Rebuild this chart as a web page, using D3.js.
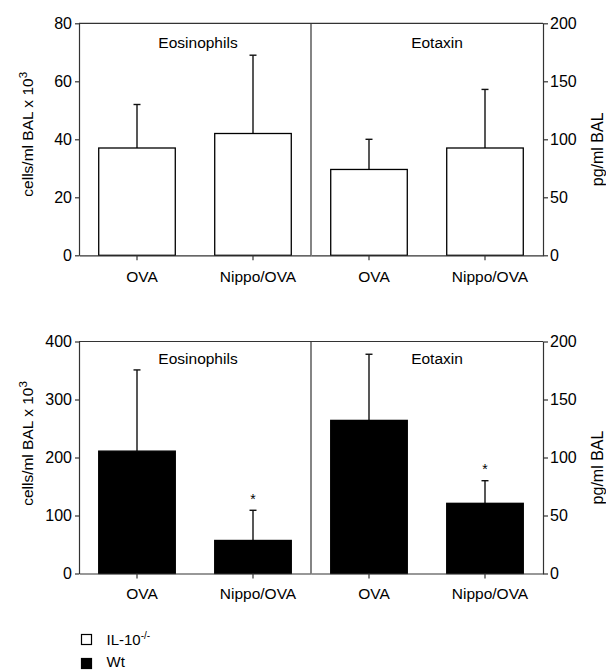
<!DOCTYPE html>
<html>
<head>
<meta charset="utf-8">
<script src="https://cdn.jsdelivr.net/npm/d3@7"></script>
<style>
	body { margin: 0; background: #fff; }
	svg text { font-family: "Liberation Sans", Arial, Helvetica, sans-serif; fill: #000; }
	.axis path, .axis line { stroke: #333; stroke-width: 1.2; }
	.axis text { font-size: 16px; }
	.xaxis text { font-size: 15.5px; }
</style>
</head>
<body>
<div id="chart"></div>
<script>
// categories
var groups = ["OVA", "Nippo/OVA"];

// IL-10-/- mice (top row)
var eosIL10 = [37, 42],
	eosIL10Err = [15, 27],
	eotIL10 = [74, 92.5],
	eotIL10Err = [26, 50.5];

// Wt mice (bottom row)
var eosWt = [211, 57],
	eosWtErr = [140, 52],
	eotWt = [132, 60.5],
	eotWtErr = [57, 19.5],
	wtSignificant = [false, true];

// tick labels
var eosTicksTop = [0, 20, 40, 60, 80],
	eosTicksBottom = [0, 100, 200, 300, 400],
	eotTicks = [0, 50, 100, 150, 200];

var _width = 606, _height = 670;

var svg = d3.select("#chart").append("svg")
	.attr("width", _width)
	.attr("height", _height);

var plot = { left: 79, mid: 311, right: 543 };

function drawRow(cfg) {
	var top = cfg.top, bottom = cfg.top + 232;

	var yLeft = d3.scaleLinear().domain(d3.extent(cfg.leftTicks)).range([bottom, top]);
	var yRight = d3.scaleLinear().domain(d3.extent(eotTicks)).range([bottom, top]);

	var xLeft = d3.scaleBand().domain(groups).range([plot.left, plot.mid])
		.paddingInner(0.34).paddingOuter(0.17);
	var xRight = d3.scaleBand().domain(groups).range([plot.mid, plot.right])
		.paddingInner(0.34).paddingOuter(0.17);

	var g = svg.append("g");

	// frame: top line and divider
	g.append("line")
		.attr("x1", plot.left).attr("x2", plot.right)
		.attr("y1", top).attr("y2", top)
		.attr("stroke", "#333").attr("stroke-width", 1.2);
	g.append("line")
		.attr("x1", plot.mid).attr("x2", plot.mid)
		.attr("y1", top).attr("y2", bottom)
		.attr("stroke", "#333").attr("stroke-width", 1.2);

	var panels = [
		{ x: xLeft, y: yLeft, values: cfg.eos, errs: cfg.eosErr, title: "Eosinophils", tdx: 3 },
		{ x: xRight, y: yRight, values: cfg.eot, errs: cfg.eotErr, title: "Eotaxin", tdx: 10 }
	];

	panels.forEach(function(p) {
		var rows = groups.map(function(name, i) {
			return { name: name, value: p.values[i], err: p.errs[i], sig: cfg.sig ? cfg.sig[i] : false };
		});
		var cx = function(d) { return p.x(d.name) + p.x.bandwidth() / 2; };

		// error bars (upper only)
		g.selectAll(null).data(rows).enter().append("line")
			.attr("x1", cx).attr("x2", cx)
			.attr("y1", function(d) { return p.y(d.value); })
			.attr("y2", function(d) { return p.y(d.value + d.err); })
			.attr("stroke", "#111").attr("stroke-width", 1.4);
		g.selectAll(null).data(rows).enter().append("line")
			.attr("x1", function(d) { return cx(d) - 3.5; })
			.attr("x2", function(d) { return cx(d) + 3.5; })
			.attr("y1", function(d) { return p.y(d.value + d.err); })
			.attr("y2", function(d) { return p.y(d.value + d.err); })
			.attr("stroke", "#111").attr("stroke-width", 1.4);

		// bars
		g.selectAll(null).data(rows).enter().append("rect")
			.attr("x", function(d) { return p.x(d.name); })
			.attr("width", p.x.bandwidth())
			.attr("y", function(d) { return p.y(d.value); })
			.attr("height", function(d) { return bottom - p.y(d.value); })
			.attr("fill", cfg.fill)
			.attr("stroke", "#000").attr("stroke-width", 1.3);

		// significance
		g.selectAll(null).data(rows.filter(function(d) { return d.sig; })).enter().append("text")
			.attr("x", cx)
			.attr("y", function(d) { return p.y(d.value + d.err) - 6.5; })
			.attr("text-anchor", "middle")
			.style("font-size", "14px")
			.text("*");

		// x axis
		g.append("g").attr("class", "axis xaxis")
			.attr("transform", "translate(0," + bottom + ")")
			.call(d3.axisBottom(p.x).tickSize(5).tickSizeOuter(0).tickPadding(cfg.xPad))
			.selectAll("text").attr("dx", 5);

		// panel title
		var range = p.x.range();
		g.append("text")
			.attr("x", (range[0] + range[1]) / 2 + p.tdx)
			.attr("y", top + cfg.titleDy)
			.attr("text-anchor", "middle")
			.style("font-size", "15.5px")
			.text(p.title);
	});

	// y axes
	g.append("g").attr("class", "axis")
		.attr("transform", "translate(" + plot.left + ",0)")
		.call(d3.axisLeft(yLeft).tickValues(cfg.leftTicks).tickSize(4).tickSizeOuter(0).tickPadding(3));
	g.append("g").attr("class", "axis")
		.attr("transform", "translate(" + plot.right + ",0)")
		.call(d3.axisRight(yRight).tickValues(eotTicks).tickSize(5).tickSizeOuter(0).tickPadding(2));

	// axis titles
	var lt = g.append("text")
		.attr("transform", "translate(33," + (top + cfg.leftTitleDy) + ") rotate(-90)")
		.attr("text-anchor", "middle")
		.style("font-size", "15.5px");
	lt.append("tspan").text("cells/ml BAL x 10");
	lt.append("tspan").attr("dy", -6).style("font-size", "11.5px").text("3");

	g.append("text")
		.attr("transform", "translate(603," + (top + 126) + ") rotate(-90)")
		.attr("text-anchor", "middle")
		.style("font-size", "16px")
		.text("pg/ml BAL");
}

drawRow({ top: 23.3, leftTicks: eosTicksTop, eos: eosIL10, eosErr: eosIL10Err,
	eot: eotIL10, eotErr: eotIL10Err, fill: "#fff", xPad: 11, titleDy: 25, leftTitleDy: 111 });
drawRow({ top: 341.5, leftTicks: eosTicksBottom, eos: eosWt, eosErr: eosWtErr,
	eot: eotWt, eotErr: eotWtErr, sig: wtSignificant, fill: "#000", xPad: 9, titleDy: 22, leftTitleDy: 102 });

// legend
var legend = svg.append("g");
legend.append("rect").attr("x", 81.5).attr("y", 634.5).attr("width", 10).attr("height", 10)
	.attr("fill", "#fff").attr("stroke", "#000").attr("stroke-width", 1.2);
var l1 = legend.append("text").attr("x", 106.5).attr("y", 645).style("font-size", "15px");
l1.append("tspan").text("IL-10");
l1.append("tspan").attr("dy", -6).style("font-size", "10px").text("-/-");
legend.append("rect").attr("x", 81.5).attr("y", 658.5).attr("width", 10).attr("height", 10)
	.attr("fill", "#000").attr("stroke", "#000").attr("stroke-width", 1.2);
legend.append("text").attr("x", 106.5).attr("y", 667).style("font-size", "15px").text("Wt");
</script>
</body>
</html>
